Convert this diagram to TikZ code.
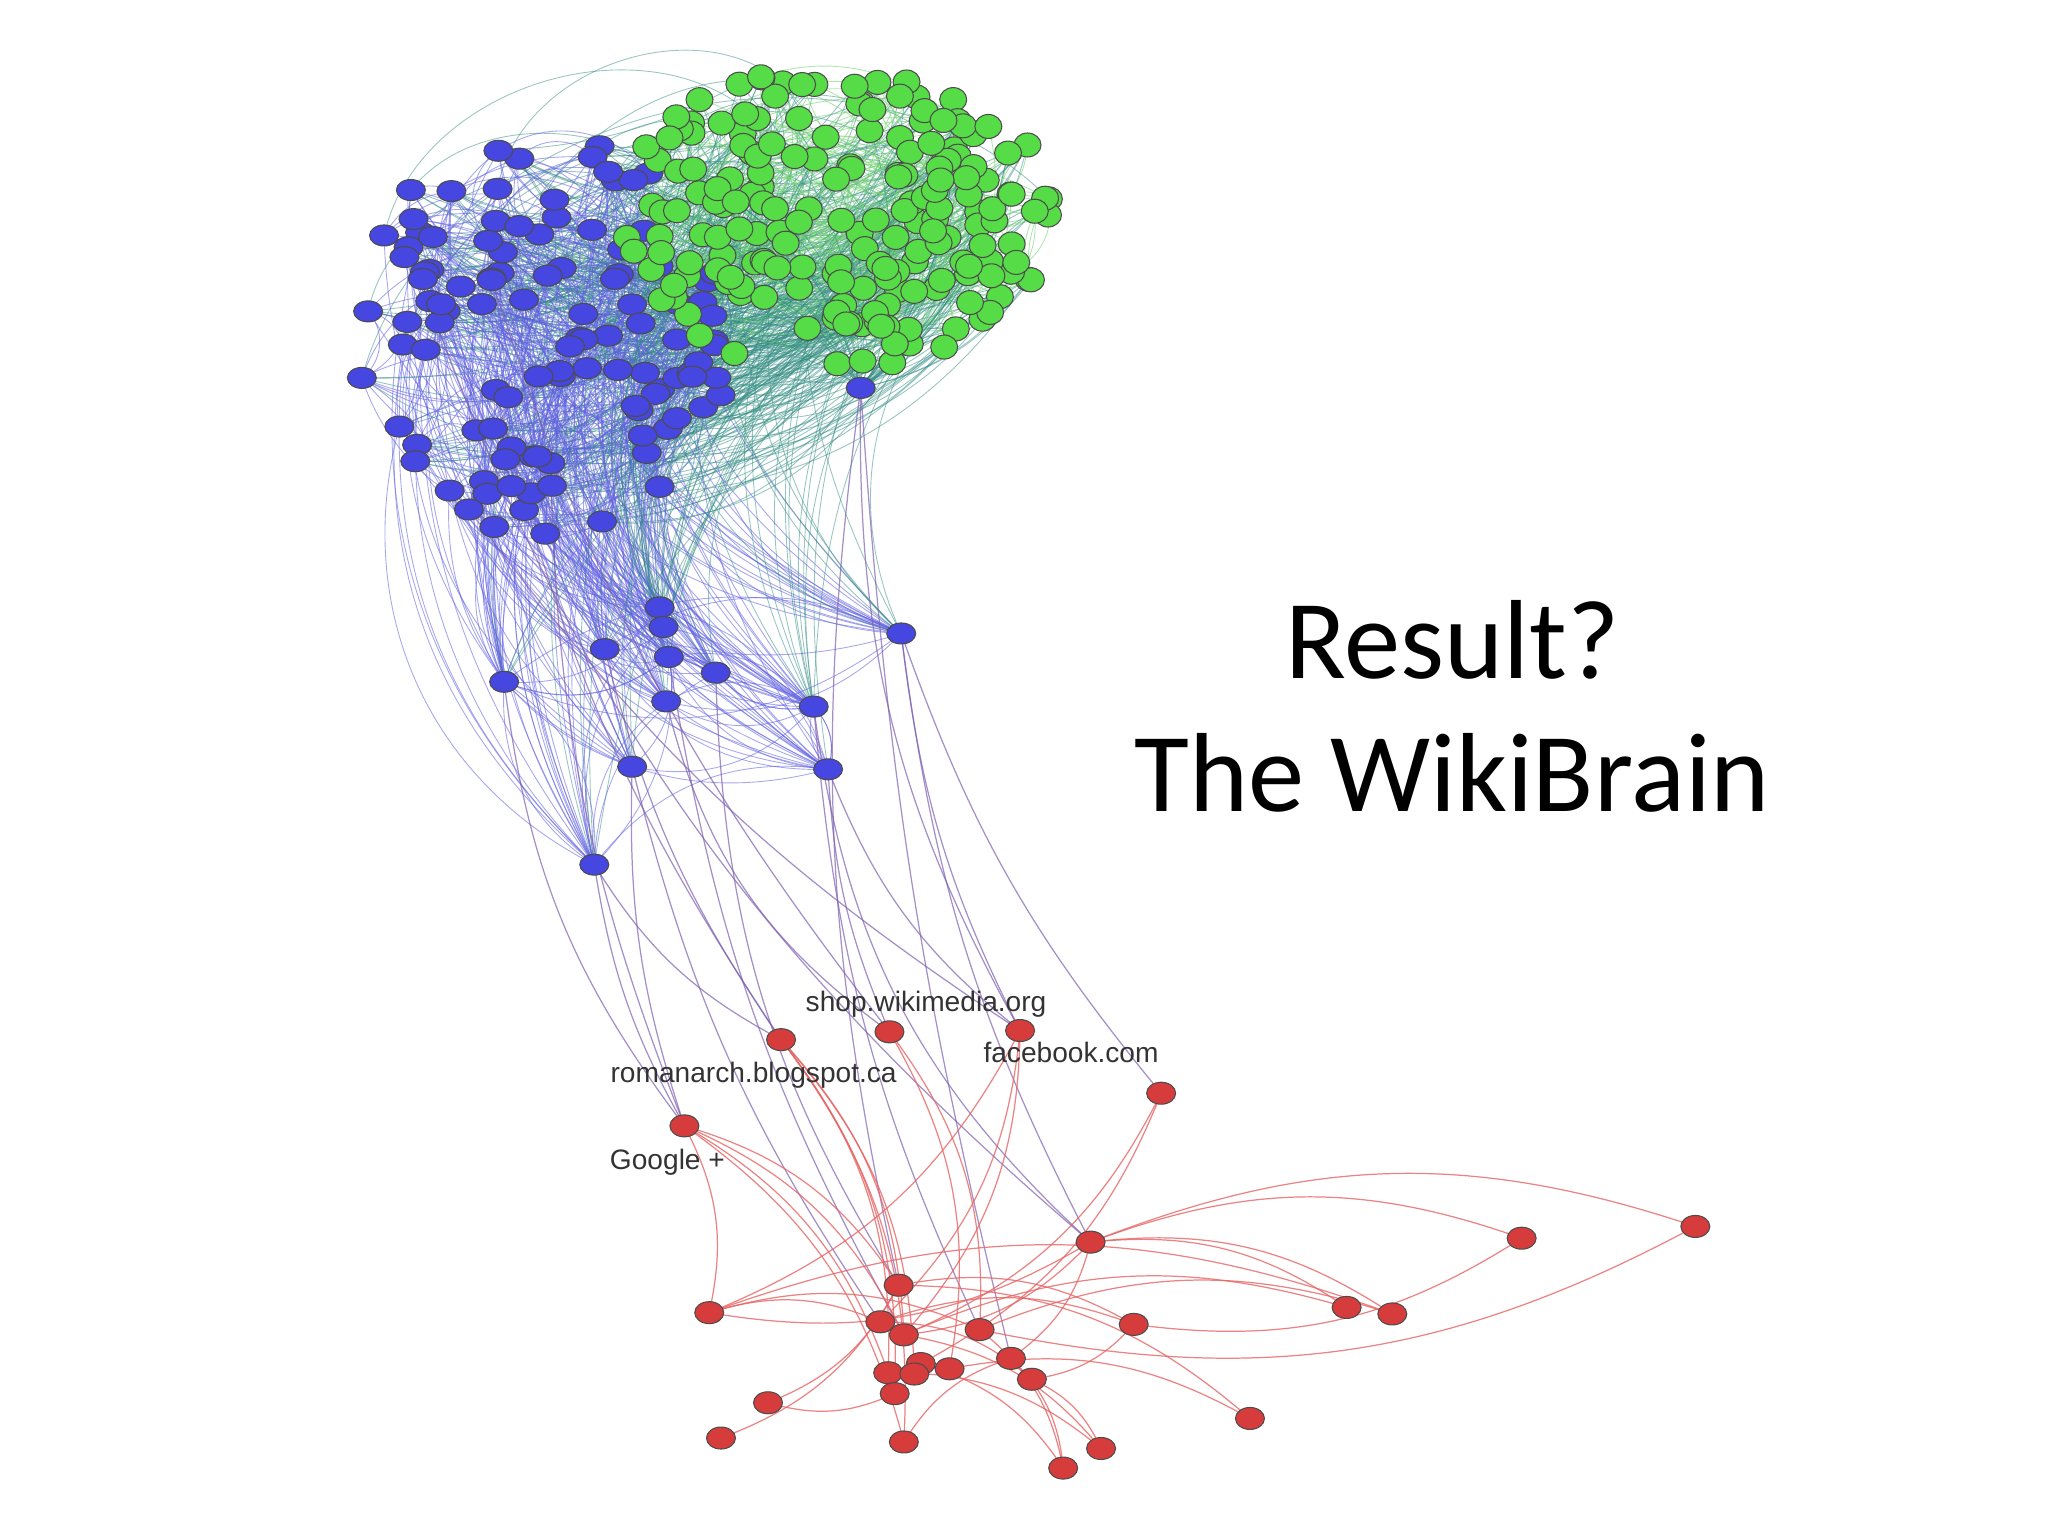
\documentclass[tikz,border=0pt]{standalone}
\usepackage{fontspec}
\usetikzlibrary{shapes.geometric}
\newfontfamily\titlefont{Carlito}
\newfontfamily\labfont{Liberation Sans}
\begin{document}
\begin{tikzpicture}[x=0.013061cm,y=-0.013061cm]
\definecolor{bfill}{RGB}{70,70,225}
\definecolor{gfill}{RGB}{85,220,70}
\definecolor{rfill}{RGB}{215,60,60}
\definecolor{bedge}{RGB}{95,95,225}
\definecolor{gedge}{RGB}{110,210,110}
\definecolor{tedge}{RGB}{50,140,130}
\definecolor{redge}{RGB}{230,100,100}
\definecolor{pedge}{RGB}{125,95,175}
\tikzset{
 bn/.style={ellipse,draw=black!70,line width=0.3pt,fill=bfill,minimum width=0.29cm,minimum height=0.21cm,inner sep=0pt},
 gn/.style={ellipse,draw=black!70,line width=0.3pt,fill=gfill,minimum width=0.27cm,minimum height=0.24cm,inner sep=0pt},
 rn/.style={ellipse,draw=black!70,line width=0.3pt,fill=rfill,minimum width=0.29cm,minimum height=0.22cm,inner sep=0pt},
 be/.style={draw=bedge,line width=0.25pt,opacity=0.55},
 ge/.style={draw=gedge,line width=0.25pt,opacity=0.55},
 te/.style={draw=tedge,line width=0.25pt,opacity=0.5},
 re/.style={draw=redge,line width=0.35pt,opacity=0.8},
 pe/.style={draw=pedge,line width=0.35pt,opacity=0.7},
 lab/.style={font=\labfont\fontsize{8}{9}\selectfont,text=black!80,inner sep=0pt},
 ttl/.style={font=\titlefont\fontsize{32}{36}\selectfont,inner sep=0pt}
}
\useasboundingbox (0,0) rectangle (1568,1176);
\pgfmathsetseed{42}
\foreach \i in {1,...,190}{
 \pgfmathsetmacro\t{rnd*360}\pgfmathsetmacro\r{sqrt(rnd)}
 \coordinate (g\i) at ({640+165*\r*cos(\t)},{165+120*\r*sin(\t)});}
\foreach \i in {1,...,110}{
 \pgfmathsetmacro\t{rnd*360}\pgfmathsetmacro\r{sqrt(rnd)}
 \coordinate (b\i) at ({415+145*\r*cos(\t)},{255+155*\r*sin(\t)});}
\foreach \n/\x/\y in {1/690/485,2/386/522,3/463/497,4/512/503,5/548/515,6/510/537,7/623/541,8/484/587,9/634/589,10/455/662,11/505/465,12/508/480,13/659/297}{
 \coordinate (l\n) at (\x,\y);}
\foreach \n/\x/\y in {1/598/796,2/681/790,3/781/789,4/889/837,5/524/862,6/835/951,7/1165/948,8/1298/939,9/543/1005,10/688/984,11/674/1012,12/692/1022,13/750/1018,14/868/1014,15/1031/1001,16/1066/1006,17/680/1051,18/705/1044,19/727/1048,20/774/1040,21/790/1056,22/685/1067,23/588/1074,24/552/1101,25/692/1104,26/957/1086,27/843/1109,28/814/1124,29/700/1052}{
 \coordinate (r\n) at (\x,\y);}
\foreach \k in {1,...,450}{
 \pgfmathtruncatemacro\a{random(1,190)}\pgfmathtruncatemacro\c{random(1,110)}\pgfmathtruncatemacro\ang{random(10,45)}
 \draw[te] (g\a) to[bend left=\ang] (b\c);}
\foreach \k in {1,...,40}{
 \pgfmathtruncatemacro\a{random(1,190)}\pgfmathtruncatemacro\c{random(1,110)}
 \draw[te] (b\c) to[bend left=60] (g\a);}
\foreach \k in {1,...,300}{
 \pgfmathtruncatemacro\a{random(1,190)}\pgfmathtruncatemacro\c{random(1,190)}\pgfmathtruncatemacro\ang{random(10,45)}
 \draw[ge] (g\a) to[bend left=\ang] (g\c);}
\foreach \k in {1,...,300}{
 \pgfmathtruncatemacro\a{random(1,110)}\pgfmathtruncatemacro\c{random(1,110)}\pgfmathtruncatemacro\ang{random(15,50)}
 \draw[be] (b\a) to[bend left=\ang] (b\c);}
\foreach \k in {1,...,220}{
 \pgfmathtruncatemacro\a{random(1,12)}\pgfmathtruncatemacro\c{random(1,110)}\pgfmathtruncatemacro\ang{random(10,40)}
 \draw[be] (l\a) to[bend left=\ang] (b\c);}
\foreach \k in {1,...,60}{
 \pgfmathtruncatemacro\a{random(1,12)}\pgfmathtruncatemacro\c{random(1,190)}\pgfmathtruncatemacro\ang{random(10,40)}
 \draw[te] (l\a) to[bend left=\ang] (g\c);}
\foreach \k in {1,...,40}{
 \pgfmathtruncatemacro\a{random(1,12)}\pgfmathtruncatemacro\c{random(1,12)}
 \draw[be] (l\a) to[bend left=30] (l\c);}
\foreach \k in {1,...,40}{
 \pgfmathtruncatemacro\c{random(1,190)}
 \draw[te] (l13) to[bend right=20] (g\c);}
\foreach \a/\c/\ang in {r5/l10/10,r5/l2/15,r5/l8/10,r1/l10/15,r1/l3/10,r2/l9/10,r2/l6/20,r3/l1/10,r3/l9/15,r3/l13/15,r6/l1/10,r6/l7/20,r10/l13/10,r10/l5/15,r12/l4/10,r4/l1/10,r2/b60/10,r1/b30/10,r3/b90/10,r6/b45/15,r11/l8/10,r5/b10/10,r20/l13/5,r13/l7/10}{
 \draw[pe] (\a) to[bend left=\ang] (\c);}
\foreach \a/\c in {r5/r9,r5/r10,r5/r12,r5/r17,r5/r25,r1/r12,r1/r17,r1/r22,r1/r29,r2/r13,r3/r11,r3/r9,r4/r12,r6/r7,r6/r8,r6/r15,r6/r16,r6/r9,r6/r12,r6/r20,r10/r24,r10/r23,r11/r14,r12/r15,r13/r16,r14/r21,r17/r27,r18/r28,r19/r26,r20/r28,r21/r27,r9/r11,r9/r13,r22/r23,r25/r20,r10/r26,r8/r13,r7/r14,r3/r12,r4/r18,r2/r19,r1/r25,r12/r27,r13/r28,r11/r21,r10/r14,r9/r16}{
 \draw[re] (\a) to[bend left=20] (\c);}
\foreach \i in {1,...,110}{\node[bn] (B\i) at (b\i) {};}
\foreach \i in {1,...,190}{\node[gn] (G\i) at (g\i) {};}
\foreach \n in {1,...,13}{\node[bn] (L\n) at (l\n) {};}
\foreach \n in {1,...,29}{\node[rn] (R\n) at (r\n) {};}
\node[lab] (t1) at (709,769) {shop.wikimedia.org};
\node[lab] (t2) at (820,806) {facebook.com};
\node[lab] (t3) at (577,823) {romanarch.blogspot.ca};
\node[lab] (t4) at (511,890) {Google +};
\node[ttl] (h1) at (1112,490) {Result?};
\node[ttl] (h2) at (1112,592) {The WikiBrain};
\end{tikzpicture}
\end{document}
